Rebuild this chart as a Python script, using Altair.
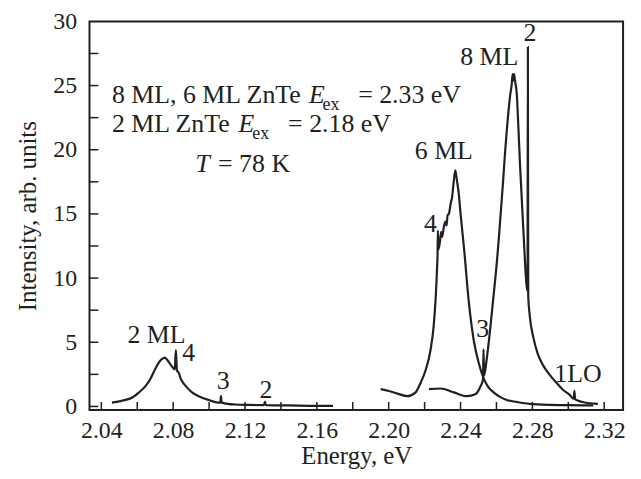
import altair as alt
import pandas as pd

# ---- spectra (energy eV, intensity arb. units) ----
e_2ml = [2.0459, 2.0518, 2.0573, 2.0610, 2.0647, 2.0675, 2.0703, 2.0730, 2.0745, 2.0754,
         2.0765, 2.0776, 2.0794, 2.0809, 2.0815, 2.0821, 2.0832, 2.0841, 2.0855, 2.0869,
         2.0905, 2.0942, 2.0998, 2.1050, 2.1062, 2.1066, 2.1070, 2.1145, 2.1219, 2.1305,
         2.1311, 2.1317, 2.1440, 2.1600, 2.1690]
i_2ml = [0.30, 0.45, 0.70, 1.10, 1.60, 2.20, 3.00, 3.60, 3.75, 3.80,
         3.65, 3.45, 3.10, 2.90, 4.40, 2.80, 2.60, 2.20, 1.85, 1.60,
         1.10, 0.80, 0.50, 0.30, 0.30, 0.80, 0.30, 0.15, 0.12, 0.10,
         0.35, 0.10, 0.08, 0.05, 0.05]

e_6ml = [2.1955, 2.2000, 2.2050, 2.2104, 2.2150, 2.2178, 2.2205, 2.2233, 2.2250, 2.2261,
         2.2270, 2.2272, 2.2274, 2.2276, 2.2285, 2.2292, 2.2298, 2.2307, 2.2316, 2.2322,
         2.2328, 2.2335, 2.2345, 2.2353, 2.2362, 2.2371, 2.2380, 2.2390, 2.2399, 2.2421,
         2.2445, 2.2473, 2.2501, 2.2528, 2.2555, 2.2584, 2.2620, 2.2657, 2.2713, 2.2785,
         2.2900, 2.3000, 2.3139]
i_6ml = [1.35, 1.20, 1.00, 0.80, 1.10, 1.85, 2.80, 4.40, 6.20, 8.30,
         11.0, 11.8, 13.7, 12.2, 12.8, 13.6, 13.2, 14.0, 14.4, 14.1,
         14.9, 15.0, 15.8, 16.3, 17.5, 18.4, 17.6, 16.6, 15.2, 12.1,
         8.30, 5.20, 3.40, 2.20, 1.50, 1.10, 0.75, 0.50, 0.35, 0.20,
         0.12, 0.10, 0.08]

e_8ml = [2.2224, 2.2288, 2.2362, 2.2436, 2.2482, 2.2509, 2.2525, 2.2528, 2.2531, 2.2545,
         2.2565, 2.2583, 2.2602, 2.2630, 2.2657, 2.2676, 2.2685, 2.2690, 2.2694, 2.2698,
         2.2704, 2.2713, 2.2722, 2.2731, 2.2750, 2.2768, 2.2773, 2.2775, 2.2777, 2.2786,
         2.2805, 2.2830, 2.2860, 2.2900, 2.2934, 2.2970, 2.3008, 2.3030, 2.3034, 2.3038,
         2.3080, 2.3120, 2.3165]
i_8ml = [1.35, 1.40, 1.10, 0.80, 0.95, 1.50, 2.10, 4.45, 2.40, 3.60,
         6.00, 8.50, 11.2, 16.2, 21.4, 24.2, 25.1, 25.9, 25.4, 25.9,
         25.3, 24.4, 21.8, 18.9, 13.7, 9.40, 9.00, 28.0, 8.60, 7.00,
         5.40, 4.10, 3.20, 2.40, 1.85, 1.30, 0.90, 0.60, 1.22, 0.55,
         0.35, 0.25, 0.20]

# ---- axes ----
x_tick_values = [2.04, 2.06, 2.08, 2.10, 2.12, 2.14, 2.16, 2.18, 2.20, 2.22, 2.24,
                 2.26, 2.28, 2.30, 2.32]
x_label_values = [2.04, 2.08, 2.12, 2.16, 2.20, 2.24, 2.28, 2.32]
y_tick_values = [0, 2.5, 5, 7.5, 10, 12.5, 15, 17.5, 20, 22.5, 25, 27.5]
y_label_values = [0, 5, 10, 15, 20, 25, 30]

# ---- annotation texts ----
reg_text = ["8 ML, 6 ML ZnTe", "= 2.33 eV", "2 ML ZnTe", "= 2.18 eV", "= 78 K"]
reg_e = [2.04592, 2.18300, 2.04592, 2.14400, 2.10500]
reg_v = [23.63, 23.63, 21.35, 21.35, 18.24]

ital_text = ["E", "E", "T"]
ital_e = [2.15563, 2.11635, 2.09239]
ital_v = [23.63, 21.35, 18.24]

sub_text = ["ex", "ex"]
sub_e = [2.1632, 2.1241]
sub_v = [23.10, 20.82]

peak_text = ["2 ML", "4", "3", "2", "6 ML", "4", "3", "8 ML", "2", "1LO"]
peak_e = [2.0707, 2.0887, 2.1079, 2.1316, 2.2307, 2.2233, 2.2523, 2.2560, 2.2786, 2.3054]
peak_v = [4.96, 3.54, 1.35, 0.63, 19.3, 13.6, 5.4, 26.6, 28.45, 1.87]

FONT = "'Liberation Serif', 'Times New Roman', 'DejaVu Serif', serif"
INK = "#231f20"
W, H = 537, 391
XD = [2.0334, 2.3305]
YD = [-0.27, 30]

frames = []
for name, es, vs in [("2ML", e_2ml, i_2ml), ("6ML", e_6ml, i_6ml), ("8ML", e_8ml, i_8ml)]:
    frames.append(pd.DataFrame({"E": es, "I": vs, "s": name, "k": range(len(es))}))
spec = pd.concat(frames, ignore_index=True)

xs = alt.Scale(domain=XD, nice=False, zero=False)
ys = alt.Scale(domain=YD, nice=False, zero=False)

x_axis = alt.Axis(values=x_label_values, format=".2f", ticks=False, domain=False, grid=False,
                  labelFont=FONT, labelFontSize=24, labelColor=INK, labelPadding=9,
                  title="Energy, eV", titleFont=FONT, titleFontSize=25, titleFontWeight="normal",
                  titleColor=INK, titlePadding=1, labelFlush=False)
y_axis = alt.Axis(values=y_label_values, format="d", ticks=False, domain=False, grid=False,
                  labelFont=FONT, labelFontSize=24, labelColor=INK, labelPadding=13,
                  title="Intensity, arb. units", titleFont=FONT, titleFontSize=25,
                  titleFontWeight="normal", titleColor=INK, titlePadding=12, labelFlush=False)

lines = alt.Chart(spec).mark_line(color=INK, strokeWidth=2.2, interpolate="monotone").encode(
    x=alt.X("E:Q", scale=xs, axis=x_axis),
    y=alt.Y("I:Q", scale=ys, axis=y_axis),
    detail="s:N",
    order="k:Q",
)

xt = alt.Chart(pd.DataFrame({"E": x_tick_values})).mark_rule(color=INK, strokeWidth=1.5).encode(
    x=alt.X("E:Q", scale=xs), y=alt.value(H), y2=alt.value(H - 8))
yt = alt.Chart(pd.DataFrame({"I": y_tick_values})).mark_rule(color=INK, strokeWidth=1.5).encode(
    y=alt.Y("I:Q", scale=ys), x=alt.value(0), x2=alt.value(9))


def text_layer(texts, es, vs, **kw):
    df = pd.DataFrame({"t": texts, "E": es, "I": vs})
    return alt.Chart(df).mark_text(font=FONT, color=INK, baseline="alphabetic", **kw).encode(
        x=alt.X("E:Q", scale=xs), y=alt.Y("I:Q", scale=ys), text="t:N")


t_reg = text_layer(reg_text, reg_e, reg_v, fontSize=26, align="left")
t_ital = text_layer(ital_text, ital_e, ital_v, fontSize=26, align="left", fontStyle="italic")
t_sub = text_layer(sub_text, sub_e, sub_v, fontSize=18, align="left")
t_peak = text_layer(peak_text, peak_e, peak_v, fontSize=26, align="center")

chart = alt.layer(lines, xt, yt, t_reg, t_ital, t_sub, t_peak).properties(
    width=W, height=H,
    autosize=alt.AutoSizeParams(type="none"),
    padding={"left": 82, "top": 12, "right": 10, "bottom": 60},
    background="white",
).configure_view(stroke=INK, strokeWidth=2)

chart.save("out.html", embed_options={"renderer": "svg", "actions": False})
